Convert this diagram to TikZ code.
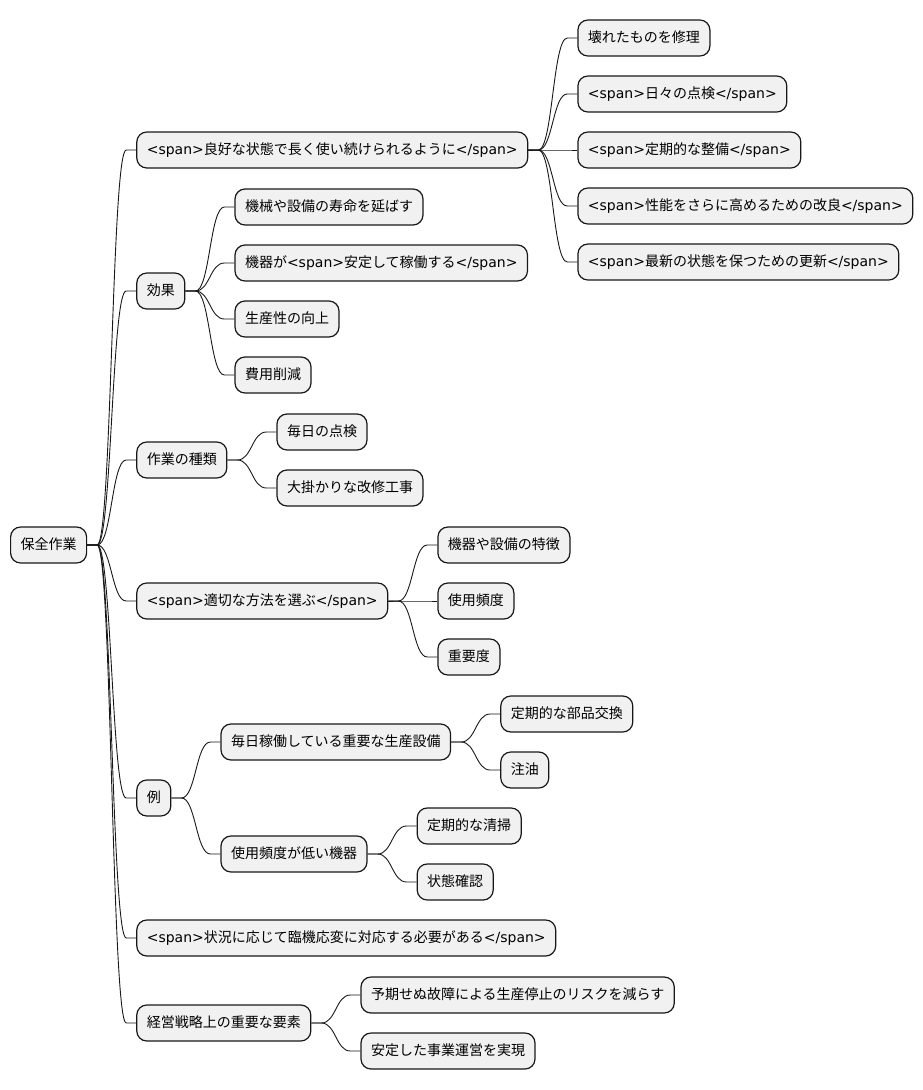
\documentclass[tikz,border=0pt]{standalone}
\usepackage{fontspec}
\setmainfont{Noto Sans CJK JP}
\newfontfamily\latinfont{DejaVu Sans}
\usetikzlibrary{positioning,calc}
\definecolor{boxfill}{HTML}{F1F1F1}
\definecolor{boxline}{HTML}{181818}
\newcommand\spo{{\latinfont <span>}}
\newcommand\spc{{\latinfont </span>}}

\begin{document}
\begin{tikzpicture}[x=1pt,y=-1pt,
  topic/.style={draw=boxline,fill=boxfill,line width=1.2pt,rounded corners=10pt,
    minimum height=36pt,inner xsep=10pt,inner ysep=0pt,text height=11pt,text depth=3pt,
    font=\fontsize{14}{16}\selectfont},
  branch/.style={draw=boxline,line width=0.9pt,to path={
    let \p1=(\tikztostart), \p2=(\tikztotarget), \p3=($(\tikztostart)!0.5!(\tikztotarget)$) in
    -- ++(10pt,0) .. controls (\x3,\y1) and (\x3,\y2) .. (\x2-10pt,\y2) -- (\tikztotarget)}}]
  \useasboundingbox (0,0) rectangle (922,1090);
  \node[topic,anchor=west] (root) at (10,545) {保全作業};
  % first level
  \node[topic,right=49pt of root,yshift=395pt]  (good)  {\spo 良好な状態で長く使い続けられるように\spc};
  \node[topic,right=49pt of root,yshift=254pt]  (eff)   {効果};
  \node[topic,right=49pt of root,yshift=85pt]   (kinds) {作業の種類};
  \node[topic,right=49pt of root,yshift=-56pt]  (method){\spo 適切な方法を選ぶ\spc};
  \node[topic,right=49pt of root,yshift=-253pt] (ex)    {例};
  \node[topic,right=49pt of root,yshift=-393pt] (adapt) {\spo 状況に応じて臨機応変に対応する必要がある\spc};
  \node[topic,right=49pt of root,yshift=-478pt] (mgmt)  {経営戦略上の重要な要素};
  % under good
  \node[topic,right=49pt of good,yshift=112pt]  (repair)  {壊れたものを修理};
  \node[topic,right=49pt of good,yshift=56pt]   (daily)   {\spo 日々の点検\spc};
  \node[topic,right=49pt of good,yshift=0pt]    (service) {\spo 定期的な整備\spc};
  \node[topic,right=49pt of good,yshift=-56pt]  (improve) {\spo 性能をさらに高めるための改良\spc};
  \node[topic,right=49pt of good,yshift=-112pt] (renew)   {\spo 最新の状態を保つための更新\spc};
  % under eff
  \node[topic,right=49pt of eff,yshift=84pt]  (life)   {機械や設備の寿命を延ばす};
  \node[topic,right=49pt of eff,yshift=28pt]  (stable) {機器が\spo 安定して稼働する\spc};
  \node[topic,right=49pt of eff,yshift=-28pt] (prod)   {生産性の向上};
  \node[topic,right=49pt of eff,yshift=-84pt] (cost)   {費用削減};
  % under kinds
  \node[topic,right=49pt of kinds,yshift=28pt]  (check) {毎日の点検};
  \node[topic,right=49pt of kinds,yshift=-28pt] (major) {大掛かりな改修工事};
  % under method
  \node[topic,right=49pt of method,yshift=56pt]  (feat) {機器や設備の特徴};
  \node[topic,right=49pt of method,yshift=0pt]   (freq) {使用頻度};
  \node[topic,right=49pt of method,yshift=-56pt] (imp)  {重要度};
  % under ex
  \node[topic,right=49pt of ex,yshift=56pt]  (busy) {毎日稼働している重要な生産設備};
  \node[topic,right=49pt of ex,yshift=-56pt] (idle) {使用頻度が低い機器};
  \node[topic,right=49pt of busy,yshift=28pt]  (parts) {定期的な部品交換};
  \node[topic,right=49pt of busy,yshift=-28pt] (oil)   {注油};
  \node[topic,right=49pt of idle,yshift=28pt]  (clean) {定期的な清掃};
  \node[topic,right=49pt of idle,yshift=-28pt] (state) {状態確認};
  % under mgmt
  \node[topic,right=49pt of mgmt,yshift=28pt]  (risk) {予期せぬ故障による生産停止のリスクを減らす};
  \node[topic,right=49pt of mgmt,yshift=-28pt] (ops)  {安定した事業運営を実現};
  % connectors
  \foreach \p/\c in {root/good,root/eff,root/kinds,root/method,root/ex,root/adapt,root/mgmt,
    good/repair,good/daily,good/service,good/improve,good/renew,
    eff/life,eff/stable,eff/prod,eff/cost,kinds/check,kinds/major,
    method/feat,method/freq,method/imp,ex/busy,ex/idle,
    busy/parts,busy/oil,idle/clean,idle/state,mgmt/risk,mgmt/ops}
    \draw[branch] (\p.east) to (\c.west);
\end{tikzpicture}
\end{document}
